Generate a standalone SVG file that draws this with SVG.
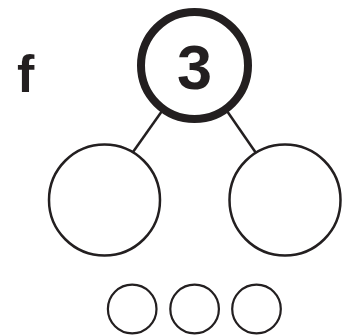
<svg xmlns="http://www.w3.org/2000/svg" width="345" height="335" viewBox="0 0 345 335">
<style>
.c{fill:#fff;stroke:#231f20}
.l{stroke:#231f20;stroke-width:2.5;fill:none}
.t{fill:#231f20;font-family:"Liberation Sans",Arial,sans-serif}
</style>
<rect width="345" height="335" fill="#fff"/>
<g id="connectors">
<line class="l" x1="162" y1="111" x2="133" y2="152"/>
<line class="l" x1="227" y1="111" x2="256" y2="153"/>
</g>
<g id="label-f"><text class="t" x="17" y="92" font-size="52" font-weight="600" font-family="Open Sans, sans-serif">f</text></g>
<g id="top"><circle class="c" cx="194.5" cy="65.5" r="53.5" stroke-width="8"/><text class="t" x="194.5" y="88.5" font-size="63" font-weight="bold" text-anchor="middle">3</text></g>
<g id="left"><circle class="c" cx="104.5" cy="200" r="55.5" stroke-width="2.5"/></g>
<g id="right"><circle class="c" cx="285" cy="200" r="55.5" stroke-width="2.5"/></g>
<g id="s1"><circle class="c" cx="132.2" cy="309" r="24.3" stroke-width="2.2"/></g>
<g id="s2"><circle class="c" cx="194.6" cy="309" r="24.3" stroke-width="2.2"/></g>
<g id="s3"><circle class="c" cx="256.5" cy="309" r="24.3" stroke-width="2.2"/></g>
</svg>
